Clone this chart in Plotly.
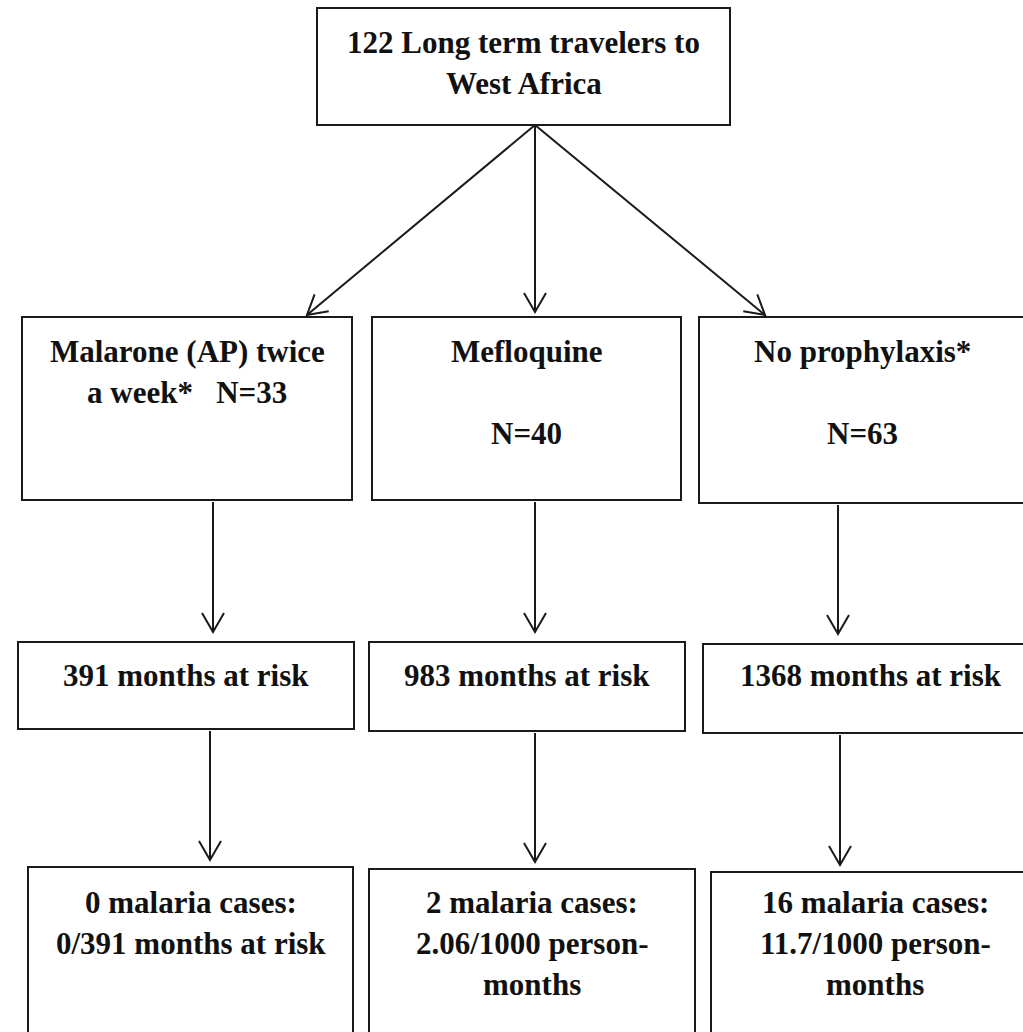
import math
import plotly.graph_objects as go

# ---- content (text of each box) ----
top_label = ["122 Long term travelers to", "West Africa"]
arm_labels = [["Malarone (AP) twice", "a week*   N=33"],
              ["Mefloquine", "", "N=40"],
              ["No prophylaxis*", "", "N=63"]]
risk_labels = [["391 months at risk"], ["983 months at risk"], ["1368 months at risk"]]
case_labels = [["0 malaria cases:", "0/391 months at risk"],
               ["2 malaria cases:", "2.06/1000 person-", "months"],
               ["16 malaria cases:", "11.7/1000 person-", "months"]]

# ---- layout geometry (page pixels, y down) ----
W, H = 1023, 1032
top_box = (317, 8, 730, 125)
arm_boxes = [(22, 317, 352, 500), (372, 317, 681, 500), (699, 317, 1025, 503)]
risk_boxes = [(18, 642, 354, 729), (369, 642, 685, 731), (703, 644, 1039, 733)]
case_boxes = [(28, 867, 353, 1045), (369, 869, 695, 1045), (711, 872, 1039, 1045)]
arrows = [((535, 125), (307, 315)), ((535, 125), (535, 312)), ((535, 125), (765, 315)),
          ((213, 502), (213, 632)), ((535, 502), (535, 632)), ((838, 505), (838, 634)),
          ((210, 731), (210, 860)), ((535, 733), (535, 862)), ((840, 735), (840, 865))]

LINE = "#1a1a1a"
FONT = dict(family="Liberation Serif, Times New Roman, serif", size=31, color="#111")
LINE_H = 41

fig = go.Figure()
shapes = []
annotations = []


def add_box(b, lines, first_y):
    x0, y0, x1, y1 = b
    shapes.append(dict(type="rect", x0=x0, y0=y0, x1=x1, y1=y1,
                       line=dict(color=LINE, width=2), fillcolor="rgba(0,0,0,0)", layer="above"))
    cx = (x0 + x1) / 2
    for i, t in enumerate(lines):
        if not t:
            continue
        annotations.append(dict(x=cx, y=first_y + i * LINE_H, text="<b>" + t + "</b>",
                                showarrow=False, xref="x", yref="y", font=FONT,
                                xanchor="center", yanchor="middle"))


add_box(top_box, top_label, 42)
for b, l in zip(arm_boxes, arm_labels):
    add_box(b, l, 351)
for b, l in zip(risk_boxes, risk_labels):
    add_box(b, l, 675)
for b, l in zip(case_boxes, case_labels):
    add_box(b, l, 902)

for (xa, ya), (xb, yb) in arrows:
    shapes.append(dict(type="line", x0=xa, y0=ya, x1=xb, y1=yb,
                       line=dict(color=LINE, width=2), xref="x", yref="y"))
    ang = math.atan2(yb - ya, xb - xa)
    L, a = 22, math.radians(30)
    p1 = (xb - L * math.cos(ang - a), yb - L * math.sin(ang - a))
    p2 = (xb - L * math.cos(ang + a), yb - L * math.sin(ang + a))
    shapes.append(dict(type="path",
                       path=f"M {p1[0]:.1f},{p1[1]:.1f} L {xb},{yb} L {p2[0]:.1f},{p2[1]:.1f}",
                       line=dict(color=LINE, width=2), xref="x", yref="y"))

fig.update_layout(
    width=W, height=H, margin=dict(l=0, r=0, t=0, b=0),
    paper_bgcolor="white", plot_bgcolor="white",
    xaxis=dict(range=[0, W], visible=False, fixedrange=True),
    yaxis=dict(range=[H, 0], visible=False, fixedrange=True),
    shapes=shapes, annotations=annotations, showlegend=False,
)
fig.write_html("out.html", config={"displayModeBar": False, "staticPlot": True},
               post_script="document.body.style.margin='0';document.body.style.overflow='hidden';")
